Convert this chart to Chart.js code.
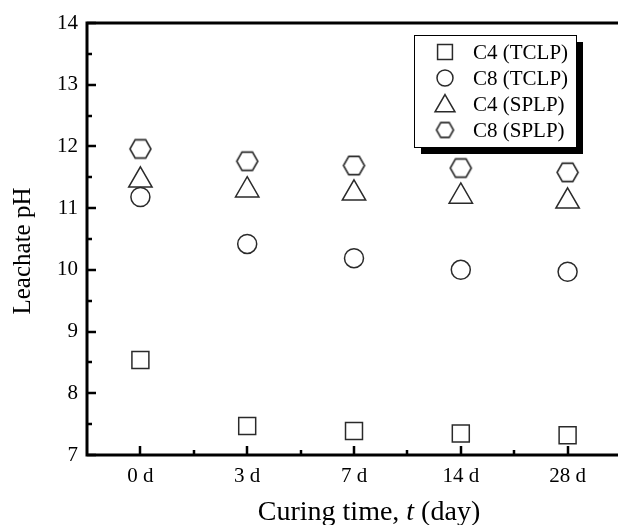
<!DOCTYPE html>
<html>
<head>
<meta charset="utf-8">
<script src="https://cdn.jsdelivr.net/npm/chart.js@4/dist/chart.umd.min.js"></script>
<style>
  html, body { margin: 0; padding: 0; background: #fff; overflow: hidden; }
  canvas { display: block; }
</style>
</head>
<body>
<canvas id="phChart" width="624" height="525"></canvas>
<script>
// curing ages and leachate pH readings
const curingDays = ['0 d', '3 d', '7 d', '14 d', '28 d'];
const c4Tclp = [8.54, 7.47, 7.39, 7.35, 7.32];
const c8Tclp = [11.18, 10.42, 10.19, 10.00, 9.97];
const c4Splp = [11.45, 11.29, 11.24, 11.19, 11.11];
const c8Splp = [11.96, 11.76, 11.69, 11.65, 11.58];
const seriesNames = ['C4 (TCLP)', 'C8 (TCLP)', 'C4 (SPLP)', 'C8 (SPLP)'];

const SERIF = '"Liberation Serif", "Times New Roman", serif';
const INK = '#2a2a2a';

// Chart.js has no hexagon point style, so build one as an image
function makeHexagon(r) {
    const size = Math.ceil(r * 2 + 4);
    const cv = document.createElement('canvas');
    cv.width = size;
    cv.height = size;
    const g = cv.getContext('2d');
    const c = size / 2;
    g.strokeStyle = INK;
    g.lineWidth = 1.6;
    g.beginPath();
    for (let i = 0; i < 6; i++) {
        const a = Math.PI / 3 * i;
        const px = c + r * Math.cos(a);
        const py = c + r * Math.sin(a);
        if (i === 0) g.moveTo(px, py); else g.lineTo(px, py);
    }
    g.closePath();
    g.stroke();
    return cv;
}

const hexPlot = makeHexagon(10.5);
const hexLegend = makeHexagon(8.5);

function series(label, data, style, radius) {
    return {
        label: label,
        data: data,
        showLine: false,
        pointStyle: style,
        pointRadius: radius,
        pointHoverRadius: radius,
        pointBorderWidth: 1.5,
        pointBorderColor: INK,
        pointBackgroundColor: 'rgba(0,0,0,0)',
        borderColor: INK
    };
}

// frame, inward ticks and the axis titles (x title has an italic t)
const framePlugin = {
    id: 'frame',
    afterDraw(chart) {
        const ctx = chart.ctx;
        const a = chart.chartArea;
        const xs = chart.scales.x;
        const ys = chart.scales.y;
        ctx.save();
        ctx.strokeStyle = '#000';
        ctx.lineWidth = 3;
        ctx.strokeRect(a.left, a.top, a.right - a.left, a.bottom - a.top);

        ctx.lineWidth = 2.5;
        ctx.beginPath();
        for (let v = 7; v <= 14; v += 0.5) {
            const y = Math.round(ys.getPixelForValue(v));
            const len = Number.isInteger(v) ? 9 : 5;
            ctx.moveTo(a.left, y);
            ctx.lineTo(a.left + len, y);
        }
        for (let i = 0; i < curingDays.length; i++) {
            const x = Math.round(xs.getPixelForValue(i));
            ctx.moveTo(x, a.bottom);
            ctx.lineTo(x, a.bottom - 9);
            if (i < curingDays.length - 1) {
                const xm = Math.round((xs.getPixelForValue(i) + xs.getPixelForValue(i + 1)) / 2);
                ctx.moveTo(xm, a.bottom);
                ctx.lineTo(xm, a.bottom - 5);
            }
        }
        ctx.stroke();

        const parts = [
            ['Curing time, ', 'normal'],
            ['t', 'italic'],
            [' (day)', 'normal']
        ];
        let total = 0;
        parts.forEach(p => {
            ctx.font = p[1] + ' 28px ' + SERIF;
            total += ctx.measureText(p[0]).width;
        });
        let x = 369 - total / 2;
        ctx.fillStyle = '#000';
        ctx.textBaseline = 'alphabetic';
        ctx.textAlign = 'left';
        parts.forEach(p => {
            ctx.font = p[1] + ' 28px ' + SERIF;
            ctx.fillText(p[0], x, 520);
            x += ctx.measureText(p[0]).width;
        });

        ctx.translate(30, 251);
        ctx.rotate(-Math.PI / 2);
        ctx.textAlign = 'center';
        ctx.font = '25px ' + SERIF;
        ctx.fillText('Leachate pH', 0, 0);
        ctx.restore();
    }
};

// boxed legend with a drop shadow inside the plot
const legendPlugin = {
    id: 'boxLegend',
    afterDraw(chart) {
        const ctx = chart.ctx;
        const a = chart.chartArea;
        const left = a.right - 207;
        const top = a.top + 12;
        const w = 162, h = 112;
        ctx.save();
        ctx.fillStyle = '#000';
        ctx.fillRect(left + 7, top + 7, w, h);
        ctx.fillStyle = '#fff';
        ctx.fillRect(left, top, w, h);
        ctx.strokeStyle = '#000';
        ctx.lineWidth = 1;
        ctx.strokeRect(left + 0.5, top + 0.5, w, h);

        const symX = left + 31;
        const styles = ['rect', 'circle', 'triangle', hexLegend];
        const radii = [10.5, 8, 11.5, 9];
        chart.data.datasets.forEach((ds, i) => {
            const y = top + 17 + i * 26;
            ctx.fillStyle = 'rgba(0,0,0,0)';
            ctx.strokeStyle = INK;
            ctx.lineWidth = 1.5;
            Chart.helpers.drawPoint(ctx, {
                pointStyle: styles[i],
                radius: radii[i],
                borderWidth: 1.5,
                rotation: 0
            }, symX, y + (i === 2 ? 2 : 0));
            ctx.fillStyle = '#000';
            ctx.font = '21px ' + SERIF;
            ctx.textBaseline = 'middle';
            ctx.textAlign = 'left';
            ctx.fillText(ds.label, left + 59, y + 1);
        });
        ctx.restore();
    }
};

new Chart(document.getElementById('phChart'), {
    type: 'line',
    data: {
        labels: curingDays,
        datasets: [
            series(seriesNames[0], c4Tclp, 'rect', 12),
            series(seriesNames[1], c8Tclp, 'circle', 9.5),
            series(seriesNames[2], c4Splp, 'triangle', 13.5),
            series(seriesNames[3], c8Splp, hexPlot, 10.5)
        ]
    },
    options: {
        responsive: false,
        animation: false,
        layout: {
            autoPadding: false,
            padding: { left: 0, top: 23, right: 3, bottom: 0 }
        },
        plugins: {
            legend: { display: false },
            tooltip: { enabled: false }
        },
        scales: {
            x: {
                offset: true,
                grid: { display: false, drawTicks: false },
                border: { display: false },
                ticks: {
                    color: '#000',
                    padding: 9,
                    font: { family: SERIF, size: 21 }
                },
                afterFit(scale) {
                    scale.height = 70;
                    scale.paddingLeft = 0;
                    scale.paddingRight = 0;
                }
            },
            y: {
                min: 7,
                max: 14,
                grid: { display: false, drawTicks: false },
                border: { display: false },
                ticks: {
                    stepSize: 1,
                    color: '#000',
                    padding: 9,
                    font: { family: SERIF, size: 21 }
                },
                afterFit(scale) {
                    scale.width = 87;
                    scale.paddingTop = 0;
                    scale.paddingBottom = 0;
                }
            }
        }
    },
    plugins: [framePlugin, legendPlugin]
});
</script>
</body>
</html>
